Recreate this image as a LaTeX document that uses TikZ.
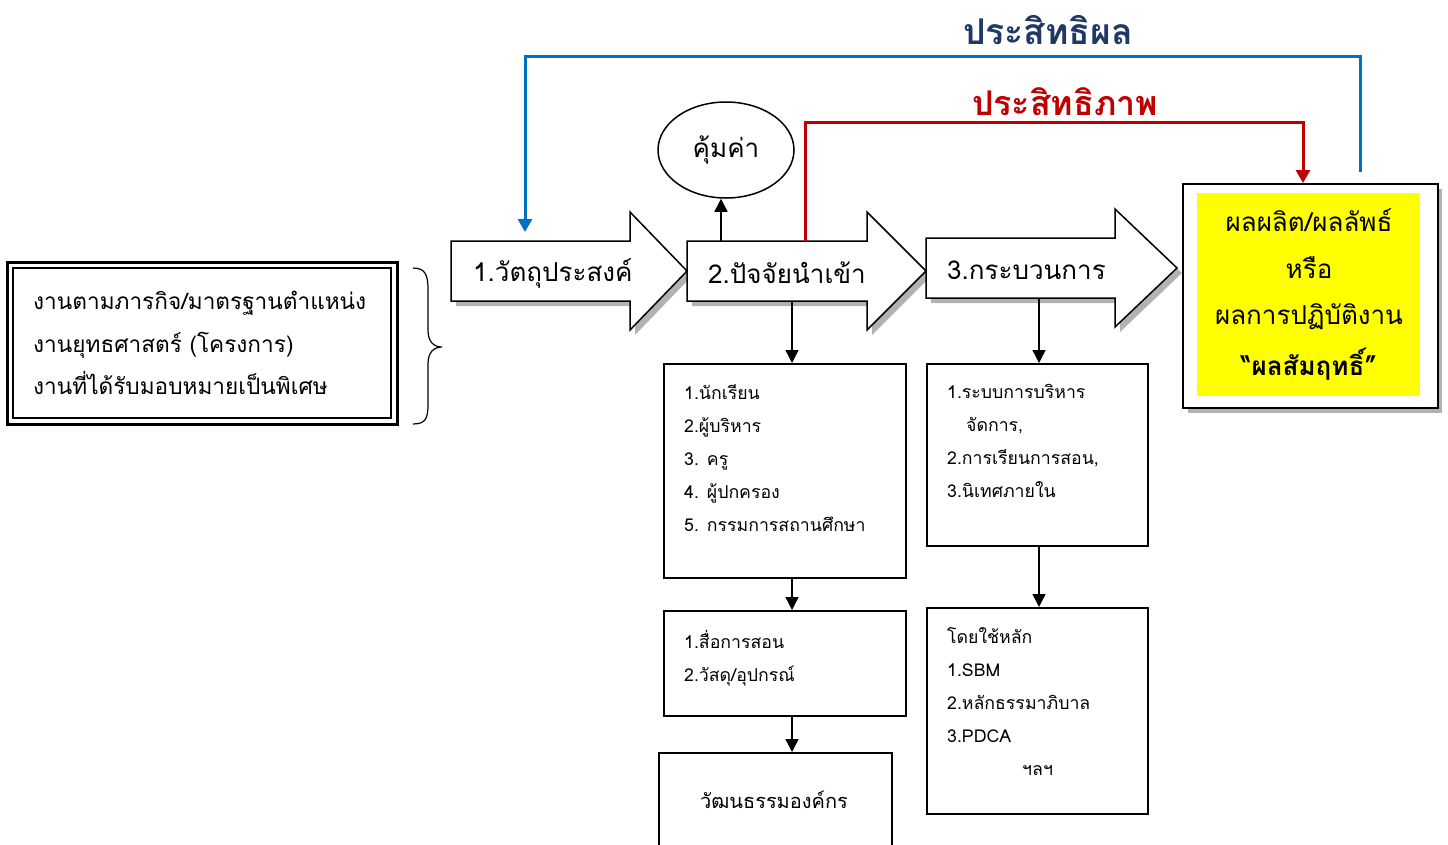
\documentclass[tikz,border=0pt]{standalone}
\usepackage{fontspec}
\setmainfont[Script=Thai]{Loma}
\usetikzlibrary{arrows.meta,shapes.geometric}
\definecolor{ttblue}{RGB}{31,56,100}
\definecolor{lnblue}{RGB}{0,112,192}
\definecolor{lnred}{RGB}{192,0,0}
\definecolor{ylw}{RGB}{255,255,0}
\newcommand\blockarrow[4]{% x0, xh, xt, yc
  \fill[gray!60] (#1+5,#4-30+5) -- (#2+5,#4-30+5) -- (#2+5,#4-59+5) -- (#3+5,#4+5) -- (#2+5,#4+59+5) -- (#2+5,#4+30+5) -- (#1+5,#4+30+5) -- cycle;
  \filldraw[fill=white,draw=black,line width=1.5pt,line join=miter] (#1,#4-30) -- (#2,#4-30) -- (#2,#4-59) -- (#3,#4) -- (#2,#4+59) -- (#2,#4+30) -- (#1,#4+30) -- cycle;
}
\begin{document}
\begin{tikzpicture}[x=1pt,y=-1pt,
  box/.style={draw,line width=1.5pt,fill=white,inner sep=0pt,anchor=north west},
  conn/.style={line width=1.4pt,-{Triangle[width=13pt,length=13pt]}},
  arrtext/.style={font=\fontsize{26}{30}\selectfont,anchor=west,inner sep=0pt},
  listtext/.style={font=\fontsize{17.7}{33}\selectfont,anchor=north west,align=left,inner sep=0pt},
  ytext/.style={font=\fontsize{26}{30}\selectfont,inner sep=0pt}]
\useasboundingbox (0,0) rectangle (1448,844);

% left double box
\draw[line width=3pt] (7,262) rectangle (397,424);
\draw[line width=1.5pt] (13,268) rectangle (391,418);
\node[font=\fontsize{22.6}{42.5}\selectfont,anchor=north west,align=left,inner sep=0pt] (tasks) at (33,291)
  {งานตามภารกิจ/มาตรฐานตำแหน่ง\\งานยุทธศาสตร์ (โครงการ)\\งานที่ได้รับมอบหมายเป็นพิเศษ};
% brace
\draw[line width=1.2pt] (413,268) .. controls (426,268) and (428,276) .. (428,290) -- (428,330)
  .. controls (428,342) and (434,347) .. (442,347) .. controls (434,347) and (428,352) .. (428,364)
  -- (428,404) .. controls (428,418) and (426,424) .. (413,424);

% block arrows
\blockarrow{451}{630}{687}{271}
\blockarrow{687}{867}{926}{271}
\blockarrow{926}{1115}{1177}{268}
\node[arrtext] (a1) at (473,273) {1.วัตถุประสงค์};
\node[arrtext] (a2) at (708,273) {2.ปัจจัยนำเข้า};
\node[arrtext] (a3) at (947,270) {3.กระบวนการ};
\coordinate (a2top) at (721,241);
\coordinate (a2red) at (805,241);
\coordinate (a2bot) at (792,301);
\coordinate (a3bot) at (1039,299);
\coordinate (a1top) at (525,232);

% output box
\fill[gray!60] (1188,189) rectangle (1442,413);
\node[box,minimum width=255,minimum height=224,line width=1.8pt] (out) at (1182,183) {};
\fill[ylw] (1197,193) rectangle (1420,396);
\node[ytext] (o1) at (1309,220) {ผลผลิต/ผลลัพธ์};
\node[ytext] (o2) at (1309,268) {หรือ};
\node[ytext] (o3) at (1309,317) {ผลการปฏิบัติงาน};
\node[ytext,font=\fontsize{26}{30}\selectfont\bfseries] (o4) at (1309,364) {“ผลสัมฤทธิ์”};

% ellipse
\node[draw,ellipse,line width=1.5pt,minimum width=136,minimum height=96,font=\fontsize{26}{30}\selectfont] (val) at (726,150) {คุ้มค่า};
\draw[conn] (a2top) -- (a2top |- val.south);

% red line
\coordinate (rtop) at (1303,183);
\draw[lnred,line width=3pt,-{Triangle[width=14pt,length=13pt]}] (a2red) -- (805,122) -- (1303,122) -- (rtop);
\node[text=lnred,font=\fontsize{34}{38}\selectfont\bfseries,inner sep=0pt] (eff) at (1065,102) {ประสิทธิภาพ};

% blue line
\coordinate (bstart) at (1360,172);
\draw[lnblue,line width=3pt,-{Triangle[width=14pt,length=13pt]}] (bstart) -- (1360,56) -- (525,56) -- (a1top);
\node[text=ttblue,font=\fontsize{35.5}{38}\selectfont\bfseries,inner sep=0pt] (effe) at (1048,30) {ประสิทธิผล};

% input boxes
\node[box,minimum width=242,minimum height=214] (b1) at (663,363) {};
\node[listtext] (t1) at (684,384) {1.นักเรียน\\2.ผู้บริหาร\\3. ครู\\4. ผู้ปกครอง\\5. กรรมการสถานศึกษา};
\node[box,minimum width=242,minimum height=105] (b2) at (663,610) {};
\node[listtext] (t2) at (684,630) {1.สื่อการสอน\\2.วัสดุ/อุปกรณ์};
\node[box,minimum width=233,minimum height=100] (b3) at (658,752) {};
\node[font=\fontsize{20}{24}\selectfont,inner sep=0pt] (t3) at (774,800) {วัฒนธรรมองค์กร};
\draw[conn] (a2bot) -- (a2bot |- b1.north);
\draw[conn] (a2bot |- b1.south) -- (a2bot |- b2.north);
\draw[conn] (a2bot |- b2.south) -- (a2bot |- b3.north);

% process boxes
\node[box,minimum width=221,minimum height=182] (p1) at (926,363) {};
\node[listtext] (s1) at (947,384) {1.ระบบการบริหาร\\\hspace*{19pt}จัดการ,\\2.การเรียนการสอน,\\3.นิเทศภายใน};
\node[box,minimum width=221,minimum height=206] (p2) at (926,607) {};
\node[listtext] (s2) at (947,627) {โดยใช้หลัก\\1.SBM\\2.หลักธรรมาภิบาล\\3.PDCA\\\hspace*{75pt}ฯลฯ};
\draw[conn] (a3bot) -- (a3bot |- p1.north);
\draw[conn] (a3bot |- p1.south) -- (a3bot |- p2.north);
\end{tikzpicture}
\end{document}
